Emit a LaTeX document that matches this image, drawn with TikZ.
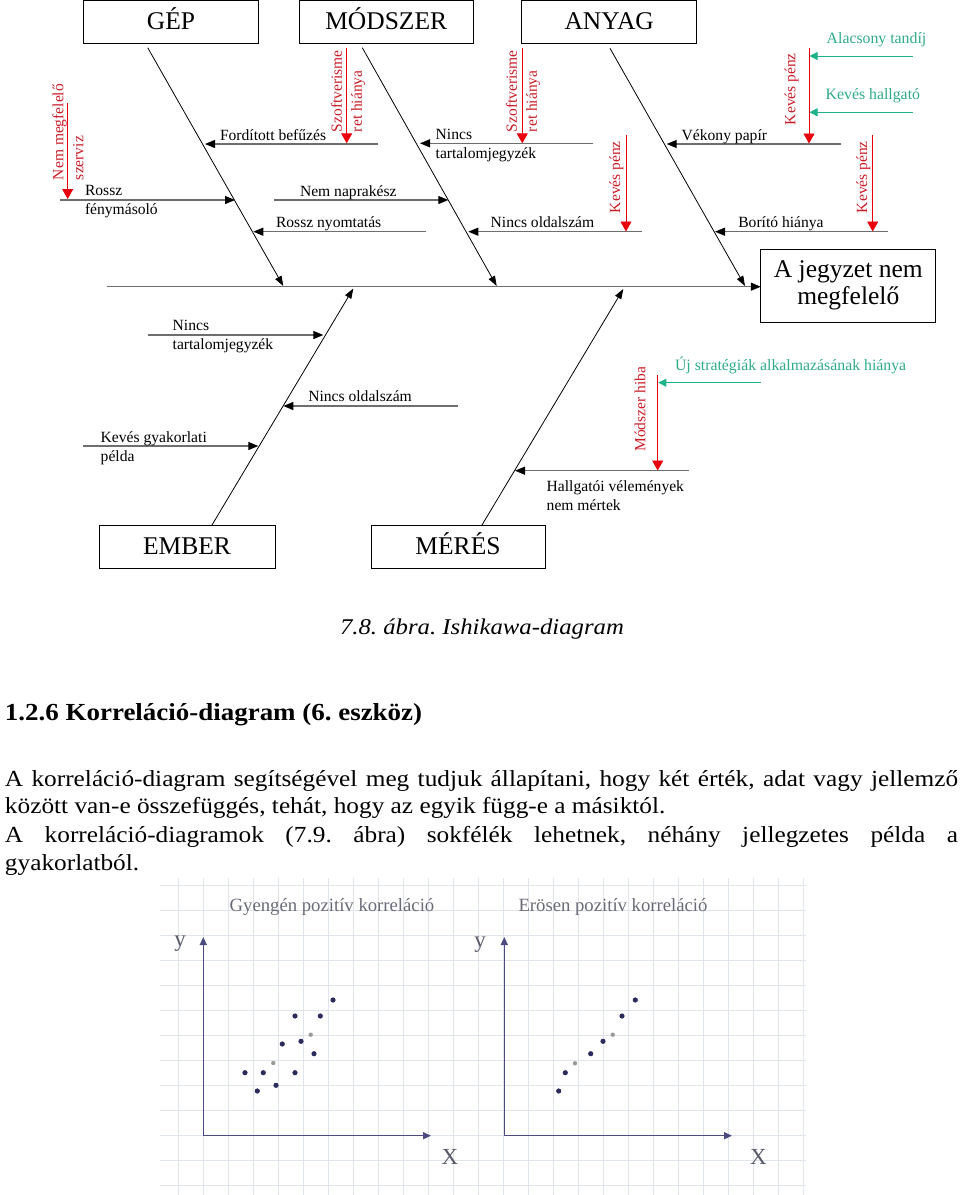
\documentclass[tikz,border=0pt]{standalone}
\usepackage{fontspec}
\setmainfont{Liberation Serif}
\newfontfamily\widefont[FakeStretch=1.1]{Liberation Serif}
\usetikzlibrary{arrows.meta}
\definecolor{lgray}{HTML}{6E6E6E}
\definecolor{fred}{HTML}{E8000B}
\definecolor{tred}{HTML}{C81E28}
\definecolor{fgreen}{HTML}{1DB38A}
\definecolor{tgreen}{HTML}{2FAA8A}
\definecolor{axisc}{HTML}{4B4B82}
\definecolor{dotc}{HTML}{2B2B5C}
\definecolor{gdot}{HTML}{9A9A9A}
\definecolor{gridc}{HTML}{E0E4EC}
\definecolor{ttl}{HTML}{6A6A78}
\definecolor{xyc}{HTML}{5A5A6A}
\tikzset{
 catbox/.style={draw=black, line width=0.9pt, minimum height=43pt, text height=18pt, text depth=4pt, font=\fontsize{25.5}{28}\selectfont},
 bone/.style={draw=black, line width=0.8pt, -{Triangle[length=10pt,width=7pt]}},
 branch/.style={draw=lgray, line width=1.2pt, -{Triangle[length=10pt,width=8pt,color=black]}},
 redarr/.style={draw=fred, line width=0.9pt, -{Triangle[length=10pt,width=11pt]}},
 grnarr/.style={draw=fgreen, line width=0.9pt, -{Triangle[length=8pt,width=8pt]}},
 lbl/.style={font=\fontsize{15.6}{19}\selectfont, align=left},
 redlbl/.style={font=\fontsize{15.5}{20}\selectfont, text=tred, rotate=90, anchor=west, align=left},
 grnlbl/.style={font=\fontsize{15.8}{19}\selectfont, text=tgreen, anchor=base west},
 body/.style={font=\widefont\fontsize{23}{26}\selectfont\frenchspacing, anchor=base west},
 axisarr/.style={draw=axisc, line width=1.4pt, -{Triangle[length=8pt,width=7pt]}},
 charttitle/.style={font=\fontsize{18.7}{20}\selectfont, text=ttl},
 xylbl/.style={font=\fontsize{23}{24}\selectfont, text=xyc},
}
\begin{document}
\begin{tikzpicture}[x=1pt,y=-1pt, every node/.style={inner sep=0pt, outer sep=0pt}]
\useasboundingbox (0,0) rectangle (960,1195);

% ---------------- category boxes ----------------
\node[catbox, minimum width=175pt] (gep) at (171,22) {GÉP};
\node[catbox, minimum width=174pt] (mod) at (386.2,22) {MÓDSZER};
\node[catbox, minimum width=175pt] (any) at (609.2,22) {ANYAG};
\node[catbox, minimum width=176pt] (emb) at (187,547) {EMBER};
\node[catbox, minimum width=174pt] (mer) at (458,547) {MÉRÉS};
\node[draw=black, line width=0.9pt, minimum width=175pt, minimum height=73pt, align=center, font=\fontsize{25.5}{27}\selectfont] (eff) at (848.3,285.5) {A jegyzet nem\\megfelelő};

% ---------------- spine and bones ----------------
\coordinate (spA) at (106.7,286.7);
\draw[branch] (spA) -- (spA -| eff.west);

\coordinate (gepA) at (147.7,47.7); \coordinate (gepB) at (283.3,286);
\coordinate (modA) at (362.3,47.7); \coordinate (modB) at (496.7,286);
\coordinate (anyA) at (610,48.3);   \coordinate (anyB) at (745,286);
\coordinate (embA) at (211.7,525.5); \coordinate (embB) at (353.3,288.5);
\coordinate (merA) at (481.7,525.5); \coordinate (merB) at (623.3,289);
\draw[bone] (gepA) -- (gepB);
\draw[bone] (modA) -- (modB);
\draw[bone] (anyA) -- (anyB);
\draw[bone] (embA) -- (embB);
\draw[bone] (merA) -- (merB);

% ---------------- GÉP branches ----------------
\coordinate (b1a) at (378.3,144); \coordinate (b1b) at (205,144);
\draw[branch] (b1a) -- (b1b);
\node[lbl, anchor=base west] (l1) at (220,140) {Fordított befűzés};

\coordinate (b2a) at (60,200); \coordinate (b2b) at (235,200);
\draw[branch] (b2a) -- (b2b);
\node[lbl, anchor=west] (l2) at (85,202) {Rossz\\fénymásoló};

\coordinate (b3a) at (426,231.7); \coordinate (b3b) at (253.3,231.7);
\draw[branch] (b3a) -- (b3b);
\node[lbl, anchor=base west] (l3) at (276,227.3) {Rossz nyomtatás};

% ---------------- MÓDSZER branches ----------------
\coordinate (b4a) at (274,200); \coordinate (b4b) at (448.3,200);
\draw[branch] (b4a) -- (b4b);
\node[lbl, anchor=base west] (l4) at (300,196) {Nem naprakész};

\coordinate (b5a) at (593.3,143.3); \coordinate (b5b) at (420,143.3);
\draw[branch] (b5a) -- (b5b);
\node[lbl, anchor=west] (l5) at (435.7,145.5) {Nincs\\tartalomjegyzék};

\coordinate (b6a) at (641.7,231.7); \coordinate (b6b) at (468.3,231.7);
\draw[branch] (b6a) -- (b6b);
\node[lbl, anchor=base west] (l6) at (490.7,227.5) {Nincs oldalszám};

% ---------------- ANYAG branches ----------------
\coordinate (b7a) at (841,144); \coordinate (b7b) at (666.7,144);
\draw[branch] (b7a) -- (b7b);
\node[lbl, anchor=base west] (l7) at (681.7,140) {Vékony papír};

\coordinate (b8a) at (888.3,231.7); \coordinate (b8b) at (715,231.7);
\draw[branch] (b8a) -- (b8b);
\node[lbl, anchor=base west] (l8) at (738.3,227.3) {Borító hiánya};

% ---------------- EMBER branches ----------------
\coordinate (b9a) at (147.7,335); \coordinate (b9b) at (323.3,335);
\draw[branch] (b9a) -- (b9b);
\node[lbl, anchor=west] (l9) at (172.7,337) {Nincs\\tartalomjegyzék};

\coordinate (b10a) at (458.3,406); \coordinate (b10b) at (283.3,406);
\draw[branch] (b10a) -- (b10b);
\node[lbl, anchor=base west] (l10) at (308.3,401.7) {Nincs oldalszám};

\coordinate (b11a) at (83.3,446); \coordinate (b11b) at (258.3,446);
\draw[branch] (b11a) -- (b11b);
\node[lbl, anchor=west] (l11) at (100.7,448) {Kevés gyakorlati\\példa};

% ---------------- MÉRÉS branches ----------------
\coordinate (b12a) at (689.3,470.7); \coordinate (b12b) at (515,470.7);
\draw[branch] (b12a) -- (b12b);
\node[lbl, anchor=west] (l12) at (546.7,495.5) {Hallgatói vélemények\\nem mértek};

% ---------------- red sub-causes ----------------
\coordinate (r1a) at (346.7,47.7); \coordinate (r1b) at (346.7,143.3);
\draw[redarr] (r1a) -- (r1b);
\node[redlbl] (rl1) at (348,132) {Szoftverisme\\ret hiánya};

\coordinate (r2a) at (67.7,103.3); \coordinate (r2b) at (67.7,199);
\draw[redarr] (r2a) -- (r2b);
\node[redlbl] (rl2) at (68,180) {Nem megfelelő\\szerviz};

\coordinate (r3a) at (522.3,47.7); \coordinate (r3b) at (522.3,143.3);
\draw[redarr] (r3a) -- (r3b);
\node[redlbl] (rl3) at (523,132) {Szoftverisme\\ret hiánya};

\coordinate (r4a) at (626,135); \coordinate (r4b) at (626,231.5);
\draw[redarr] (r4a) -- (r4b);
\node[redlbl] (rl4) at (616.5,213) {Kevés pénz};

\coordinate (r5a) at (809,47.7); \coordinate (r5b) at (809,143.5);
\draw[redarr] (r5a) -- (r5b);
\node[redlbl] (rl5) at (791.7,125) {Kevés pénz};

\coordinate (r6a) at (872.7,135); \coordinate (r6b) at (872.7,231.5);
\draw[redarr] (r6a) -- (r6b);
\node[redlbl] (rl6) at (863.3,213) {Kevés pénz};

\coordinate (r7a) at (657.7,375); \coordinate (r7b) at (657.7,470.5);
\draw[redarr] (r7a) -- (r7b);
\node[redlbl] (rl7) at (640,451.7) {Módszer hiba};

% ---------------- green sub-causes ----------------
\coordinate (g1a) at (912.7,56); \coordinate (g1b) at (809.5,56);
\draw[grnarr] (g1a) -- (g1b);
\node[grnlbl] (gl1) at (826.7,43.3) {Alacsony tandíj};

\coordinate (g2a) at (912.7,112.3); \coordinate (g2b) at (809.5,112.3);
\draw[grnarr] (g2a) -- (g2b);
\node[grnlbl] (gl2) at (825.7,99.3) {Kevés hallgató};

\coordinate (g3a) at (761,382.7); \coordinate (g3b) at (658.3,382.7);
\draw[grnarr] (g3a) -- (g3b);
\node[grnlbl] (gl3) at (675,370) {Új stratégiák alkalmazásának hiánya};

% ---------------- caption and text ----------------
\node[font=\widefont\fontsize{22.5}{24}\selectfont\itshape\frenchspacing, anchor=base] (cap) at (482,634) {7.8. ábra. Ishikawa-diagram};
\node[font=\widefont\fontsize{24.5}{26}\selectfont\bfseries\frenchspacing, anchor=base west] (head) at (5,720) {1.2.6 Korreláció-diagram (6. eszköz)};
\node[body] (t1) at (5,786) {\makebox[953pt][s]{A korreláció-diagram segítségével meg tudjuk állapítani, hogy két érték, adat vagy jellemző}};
\node[body] (t2) at (5,813.3) {között van-e összefüggés, tehát, hogy az egyik függ-e a másiktól.};
\node[body] (t3) at (5,842.7) {\makebox[953pt][s]{A korreláció-diagramok (7.9. ábra) sokfélék lehetnek, néhány jellegzetes példa a}};
\node[body] (t4) at (5,870.7) {gyakorlatból.};

% ---------------- correlation charts ----------------
\foreach \i in {0,...,25} {
  \draw[gridc, line width=0.7pt] (178.3+25*\i,878) -- (178.3+25*\i,1195);
}
\foreach \j in {0,...,12} {
  \draw[gridc, line width=0.7pt] (160,885+25*\j) -- (806,885+25*\j);
}

\node[charttitle] (ct1) at (332,907) {Gyengén pozitív korreláció};
\node[charttitle] (ct2) at (613,907) {Erösen pozitív korreláció};

\coordinate (o1) at (203.3,1135.7); \coordinate (y1) at (203.3,937); \coordinate (x1) at (431,1135.7);
\draw[axisarr] (o1) -- (y1);
\draw[axisarr] (o1) -- (x1);
\node[xylbl] (ly1) at (180,944) {y};
\node[xylbl] (lx1) at (450,1157) {X};

\coordinate (o2) at (504.3,1135.7); \coordinate (y2) at (504.3,937); \coordinate (x2) at (732,1135.7);
\draw[axisarr] (o2) -- (y2);
\draw[axisarr] (o2) -- (x2);
\node[xylbl] (ly2) at (480,945) {y};
\node[xylbl] (lx2) at (758.3,1157) {X};

\foreach \p in {(245,1072.7),(263.3,1072.7),(257.3,1091),(276,1085.3),(282.3,1044),(295,1016),(295,1072.7),(301,1041.3),(314,1053.7),(320.3,1016),(333,1000),
  (558.7,1091),(565.3,1072.7),(590.7,1053.7),(603,1041.3),(622,1016),(635.3,1000)} {
  \fill[dotc] \p circle (2.6pt);
}
\foreach \p in {(273.3,1063),(310.7,1034.7),(575,1063.3),(612.7,1034.7)} {
  \fill[gdot] \p circle (2.2pt);
}
\end{tikzpicture}
\end{document}
